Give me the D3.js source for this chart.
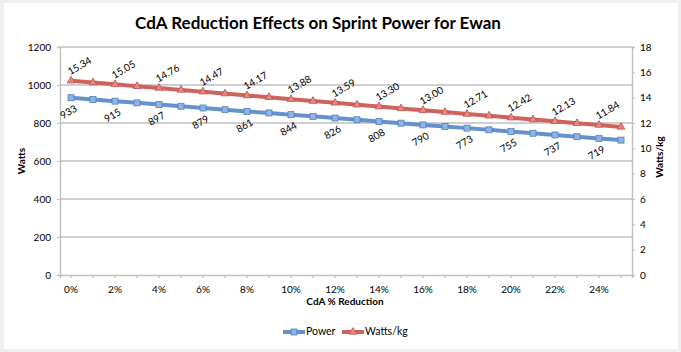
<!DOCTYPE html>
<html>
<head>
<meta charset="utf-8">
<script src="https://cdn.jsdelivr.net/npm/d3@7"></script>
<style>
  html, body { margin: 0; padding: 0; background: #efefef; }
  svg { display: block; }
  text { font-family: Lato, "Open Sans", "Liberation Sans", sans-serif; fill: #000; }
</style>
</head>
<body>
<svg id="chart" width="681" height="352"></svg>
<script>
// ---- data ----
const categories = ["0%","1%","2%","3%","4%","5%","6%","7%","8%","9%","10%","11%","12%","13%","14%","15%","16%","17%","18%","19%","20%","21%","22%","23%","24%","25%"];
const power = [933, 924, 915, 906, 897, 888, 879, 870, 861, 853, 844, 835, 826, 817, 808, 799, 790, 782, 773, 764, 755, 746, 737, 728, 719, 710];
const wattsPerKg = [15.34, 15.19, 15.05, 14.90, 14.76, 14.61, 14.47, 14.32, 14.17, 14.03, 13.88, 13.73, 13.59, 13.44, 13.30, 13.15, 13.00, 12.86, 12.71, 12.57, 12.42, 12.27, 12.13, 11.98, 11.84, 11.69];
const leftTicks = [0, 200, 400, 600, 800, 1000, 1200];
const rightTicks = [0, 2, 4, 6, 8, 10, 12, 14, 16, 18];
const title = "CdA Reduction Effects on Sprint Power for Ewan";
const xTitle = "CdA % Reduction";
const yLeftTitle = "Watts";
const yRightTitle = "Watts/kg";
const seriesNames = ["Power", "Watts/kg"];

// ---- layout ----
const svg = d3.select("#chart");
const plot = { left: 60, right: 632, top: 47, bottom: 275 };
const blue = "#6592cd", blueFill = "#8fb3e3", blueStroke = "#4f81bd";
const red = "#d0625e", redFill = "#e08a86", redStroke = "#c0504d";
const gridColor = "#bfbfbf";

svg.append("rect").attr("x", 4).attr("y", 3).attr("width", 674).attr("height", 346).attr("fill", "#fff");

const x = d3.scaleBand().domain(categories).range([plot.left, plot.right]).padding(0);
const cx = c => x(c) + x.bandwidth() / 2;
const yL = d3.scaleLinear().domain([0, 1200]).range([plot.bottom, plot.top]);
const yR = d3.scaleLinear().domain([0, 18]).range([plot.bottom, plot.top]);

// gridlines
svg.append("g").selectAll("line").data(leftTicks.filter(d => d > 0)).join("line")
  .attr("x1", plot.left).attr("x2", plot.right)
  .attr("y1", d => yL(d)).attr("y2", d => yL(d))
  .attr("stroke", gridColor).attr("stroke-width", 1.4);

// left axis
const gL = svg.append("g").attr("transform", `translate(${plot.left},0)`)
  .call(d3.axisLeft(yL).tickValues(leftTicks).tickSize(3).tickPadding(6).tickFormat(d3.format("d")));
gL.select(".domain").attr("stroke", gridColor).attr("stroke-width", 1.4);
gL.selectAll(".tick line").attr("stroke", gridColor).attr("stroke-width", 1.2);
gL.selectAll("text").style("font-size", "10px").attr("fill", "#000");

// right axis
const gR = svg.append("g").attr("transform", `translate(${plot.right},0)`)
  .call(d3.axisRight(yR).tickValues(rightTicks).tickSize(3).tickPadding(5));
gR.select(".domain").attr("stroke", gridColor).attr("stroke-width", 1.4);
gR.selectAll(".tick line").attr("stroke", gridColor).attr("stroke-width", 1.2);
gR.selectAll("text").style("font-size", "10px").attr("fill", "#000");

// bottom axis
const gX = svg.append("g").attr("transform", `translate(0,${plot.bottom})`)
  .call(d3.axisBottom(x).tickSize(3).tickPadding(8)
    .tickFormat((d, i) => i % 2 === 0 ? d : ""));
gX.select(".domain").attr("stroke", gridColor).attr("stroke-width", 1.4);
gX.selectAll(".tick line").attr("stroke", gridColor).attr("stroke-width", 1.2);
gX.selectAll("text").style("font-size", "10px").attr("fill", "#000");

// lines
const linePow = d3.line().x((d, i) => cx(categories[i])).y(d => yL(d));
const lineWkg = d3.line().x((d, i) => cx(categories[i])).y(d => yR(d));

svg.append("path").datum(power).attr("d", linePow).attr("fill", "none")
  .attr("stroke", blue).attr("stroke-width", 4).attr("stroke-linejoin", "round");
svg.append("path").datum(wattsPerKg).attr("d", lineWkg).attr("fill", "none")
  .attr("stroke", red).attr("stroke-width", 4).attr("stroke-linejoin", "round");

// markers
svg.append("g").selectAll("rect").data(power).join("rect")
  .attr("x", (d, i) => cx(categories[i]) - 3).attr("y", d => yL(d) - 3)
  .attr("width", 6).attr("height", 6)
  .attr("fill", blueFill).attr("stroke", blueStroke).attr("stroke-width", 0.8);
const tri = d3.symbol().type(d3.symbolTriangle).size(26);
svg.append("g").selectAll("path").data(wattsPerKg).join("path")
  .attr("d", tri)
  .attr("transform", (d, i) => `translate(${cx(categories[i])},${yR(d)})`)
  .attr("fill", redFill).attr("stroke", redStroke).attr("stroke-width", 0.8);

// data labels (every other point)
const labelIdx = categories.map((c, i) => i).filter(i => i % 2 === 0);
svg.append("g").selectAll("text").data(labelIdx).join("text")
  .attr("transform", i => `translate(${cx(categories[i]) - 2},${yL(power[i]) + 15}) rotate(-30)`)
  .attr("text-anchor", "middle").attr("dominant-baseline", "middle")
  .style("font-size", "10px").text(i => power[i]);
svg.append("g").selectAll("text").data(labelIdx).join("text")
  .attr("transform", i => `translate(${cx(categories[i]) + 9},${yR(wattsPerKg[i]) - 14}) rotate(-30)`)
  .attr("text-anchor", "middle").attr("dominant-baseline", "middle")
  .style("font-size", "10px").text(i => wattsPerKg[i].toFixed(2));

// titles
svg.append("text").attr("x", 318).attr("y", 25).attr("text-anchor", "middle")
  .attr("dominant-baseline", "middle").style("font-size", "17px").style("font-weight", "bold").text(title);
svg.append("text").attr("x", 345).attr("y", 302).attr("text-anchor", "middle")
  .attr("dominant-baseline", "middle").style("font-size", "10px").style("font-weight", "bold").text(xTitle);
svg.append("text").attr("transform", "translate(22,161) rotate(-90)").attr("text-anchor", "middle")
  .attr("dominant-baseline", "middle").style("font-size", "10px").style("font-weight", "bold").text(yLeftTitle);
svg.append("text").attr("transform", "translate(660,157) rotate(-90)").attr("text-anchor", "middle")
  .attr("dominant-baseline", "middle").style("font-size", "10px").style("font-weight", "bold").text(yRightTitle);

// legend
const legend = svg.append("g");
const legItems = [
  { name: seriesNames[0], x0: 283, color: blue, fill: blueFill, stroke: blueStroke, shape: "square" },
  { name: seriesNames[1], x0: 342, color: red, fill: redFill, stroke: redStroke, shape: "triangle" }
];
const ly = 332;
legItems.forEach(it => {
  legend.append("line").attr("x1", it.x0).attr("x2", it.x0 + 22).attr("y1", ly).attr("y2", ly)
    .attr("stroke", it.color).attr("stroke-width", 4);
  if (it.shape === "square") {
    legend.append("rect").attr("x", it.x0 + 8).attr("y", ly - 3).attr("width", 6).attr("height", 6)
      .attr("fill", it.fill).attr("stroke", it.stroke).attr("stroke-width", 0.8);
  } else {
    legend.append("path").attr("d", tri).attr("transform", `translate(${it.x0 + 11},${ly})`)
      .attr("fill", it.fill).attr("stroke", it.stroke).attr("stroke-width", 0.8);
  }
  legend.append("text").attr("x", it.x0 + 23).attr("y", ly).attr("dominant-baseline", "middle")
    .style("font-size", "10.5px").text(it.name);
});
</script>
</body>
</html>
